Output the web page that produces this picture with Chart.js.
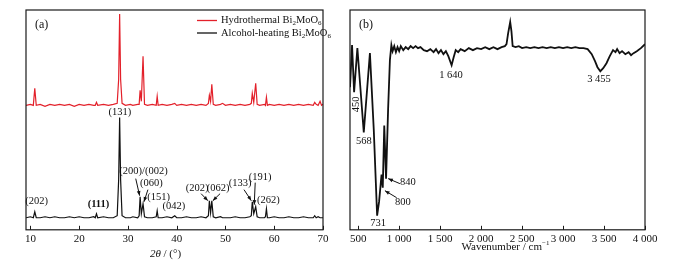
<!DOCTYPE html>
<html>
<head>
<meta charset="utf-8">
<script src="https://cdn.jsdelivr.net/npm/chart.js@4.4.1/dist/chart.umd.min.js"></script>
<style>
  html, body { margin: 0; padding: 0; background: #fff; }
  #wrap { position: relative; width: 686px; height: 266px; }
  .pane { position: absolute; top: 0; height: 266px; }
</style>
</head>
<body>
<div id="wrap">
  <div class="pane" style="left:0;width:343px"><canvas id="xrdChart" width="343" height="266"></canvas></div>
  <div class="pane" style="left:343px;width:343px"><canvas id="ftirChart" width="343" height="266"></canvas></div>
</div>
<script>
// ---- (a) XRD data ----
const xrdAngles = [
  9.1, 10.0, 10.6, 10.9, 11.2, 12.0, 13.0, 14.0, 15.0, 16.0,
  17.0, 18.0, 19.0, 20.0, 21.0, 22.0, 23.0, 23.3, 23.55, 23.8,
  25.0, 26.0, 27.0, 27.8, 28.1, 28.3, 28.5, 28.8, 29.5, 30.5,
  31.0, 32.0, 32.3, 32.5, 32.75, 33.1, 33.4, 34.0, 35.0, 35.8,
  36.0, 36.2, 37.0, 38.0, 39.0, 39.6, 40.0, 41.0, 42.0, 43.0,
  44.0, 45.0, 46.0, 46.5, 46.7, 46.95, 47.2, 47.5, 48.0, 49.0,
  49.4, 50.0, 51.0, 52.0, 53.0, 54.0, 55.0, 55.3, 55.5, 55.8,
  56.2, 56.5, 57.0, 58.0, 58.2, 58.4, 58.6, 59.0, 60.0, 61.0,
  62.0, 63.0, 64.0, 65.0, 66.0, 67.0, 68.0, 68.3, 68.6, 69.0,
  69.4, 69.7, 70.0
];
const hydrothermal = [
  124, 125, 124, 141, 124, 125, 123, 125, 124, 125,
  124, 125, 123, 125, 124, 125, 124, 124, 127, 124,
  125, 124, 125, 126, 150, 215, 150, 126, 124, 125,
  124, 125, 125, 139, 128, 173, 125, 124, 125, 124,
  133, 124, 125, 124, 125, 126, 124, 125, 124, 125,
  124, 125, 124, 126, 134, 128, 145, 125, 124, 125,
  126, 124, 125, 124, 125, 124, 125, 126, 136, 127,
  146, 125, 124, 125, 124, 132, 124, 125, 124, 125,
  124, 125, 124, 125, 124, 125, 124, 127, 125, 124,
  128, 124, 125
];
const alcoholHeating = [
  12, 13, 12, 18, 12, 12, 13, 12, 13, 12,
  12, 13, 12, 13, 12, 12, 13, 12, 16, 12,
  13, 12, 12, 14, 50, 112, 50, 14, 12, 12,
  13, 12, 14, 33, 16, 26, 13, 12, 12, 13,
  19, 12, 12, 13, 12, 14, 12, 12, 13, 12,
  12, 13, 12, 14, 29, 17, 29, 13, 12, 13,
  12, 12, 12, 13, 12, 12, 13, 14, 28, 16,
  23, 13, 12, 12, 13, 21, 12, 12, 13, 12,
  12, 13, 12, 12, 13, 12, 12, 14, 12, 13,
  12, 12, 12
];
const xrdTicks = [10, 20, 30, 40, 50, 60, 70];

// ---- (b) FTIR data ----
const wavenumbers = [
  400, 425, 450, 490, 568, 643, 690, 731, 755, 785,
  800, 818, 840, 865, 887, 905, 920, 940, 960, 980,
  1000, 1020, 1050, 1080, 1110, 1140, 1170, 1200, 1230, 1260,
  1300, 1340, 1380, 1420, 1450, 1480, 1510, 1540, 1570, 1600,
  1640, 1665, 1690, 1720, 1750, 1800, 1850, 1900, 1950, 2000,
  2050, 2100, 2150, 2200, 2250, 2290, 2310, 2330, 2355, 2370,
  2385, 2420, 2460, 2500, 2550, 2600, 2650, 2700, 2750, 2800,
  2850, 2900, 2950, 3000, 3050, 3100, 3150, 3200, 3250, 3300,
  3350, 3390, 3420, 3455, 3490, 3530, 3570, 3610, 3640, 3660,
  3690, 3720, 3760, 3800, 3830, 3860, 3900, 3950, 4000
];
const transmittance = [
  142, 184, 137, 181, 97, 176, 100, 14, 28, 55,
  42, 104, 51, 120, 169, 184, 178, 183, 177, 182,
  178, 183, 179, 182, 180, 183, 181, 183, 181, 182,
  179, 178, 180, 177, 180, 176, 179, 175, 178, 173,
  164, 172, 179, 177, 180, 178, 181, 179, 181, 180,
  182, 180, 182, 180, 182, 183, 185, 196, 207, 198,
  183, 182, 183, 181, 182, 181, 182, 181, 182, 181,
  182, 181, 182, 181, 182, 181, 182, 181, 181, 180,
  175, 168, 162, 158, 161, 166, 173, 179, 177, 180,
  176, 178, 175, 177, 174, 176, 178, 181, 185
];
const ftirTicks = [500, 1000, 1500, 2000, 2500, 3000, 3500, 4000];
const ftirTickLabels = ['500', '1 000', '1 500', '2 000', '2 500', '3 000', '3 500', '4 000'];

const SERIF = '"Liberation Serif", "Times New Roman", serif';

function fontFor(p, size) {
  const s = (p.sub || p.sup) ? Math.round(size * 0.68) : size;
  return (p.italic ? 'italic ' : '') + (p.bold ? 'bold ' : '') + s + 'px ' + SERIF;
}

// draws text made of pieces (subscripts, superscripts, italics)
function drawRich(ctx, parts, x, y, size, align) {
  let total = 0;
  parts.forEach(p => { ctx.font = fontFor(p, size); total += ctx.measureText(p.t).width; });
  let cx = align === 'center' ? x - total / 2 : x;
  ctx.textAlign = 'left';
  ctx.textBaseline = 'middle';
  parts.forEach(p => {
    ctx.font = fontFor(p, size);
    const dy = p.sub ? size * 0.3 : (p.sup ? -size * 0.3 : 0);
    ctx.fillText(p.t, cx, y + dy);
    cx += ctx.measureText(p.t).width;
  });
}

function drawArrow(ctx, x1, y1, x2, y2) {
  ctx.beginPath();
  ctx.moveTo(x1, y1);
  ctx.lineTo(x2, y2);
  ctx.stroke();
  const a = Math.atan2(y2 - y1, x2 - x1), L = 5, W = 0.38;
  ctx.beginPath();
  ctx.moveTo(x2, y2);
  ctx.lineTo(x2 - L * Math.cos(a - W), y2 - L * Math.sin(a - W));
  ctx.lineTo(x2 - L * Math.cos(a + W), y2 - L * Math.sin(a + W));
  ctx.closePath();
  ctx.fill();
}

// frame round the plot and short ticks pointing inwards
const framePlugin = {
  id: 'frame',
  afterDraw(chart) {
    const ctx = chart.ctx, a = chart.chartArea, sx = chart.scales.x;
    ctx.save();
    ctx.strokeStyle = '#1a1a1a';
    ctx.lineWidth = 1.2;
    ctx.strokeRect(a.left, a.top, a.right - a.left, a.bottom - a.top);
    ctx.lineWidth = 1;
    sx.ticks.forEach(t => {
      const px = Math.round(sx.getPixelForValue(t.value)) + 0.5;
      ctx.beginPath();
      ctx.moveTo(px, a.bottom);
      ctx.lineTo(px, a.bottom - 4);
      ctx.stroke();
    });
    ctx.restore();
  }
};

function xAxis(min, max, ticks, labelFn) {
  return {
    type: 'linear', min: min, max: max,
    afterBuildTicks: axis => { axis.ticks = ticks.map(v => ({ value: v })); },
    grid: { display: false, drawTicks: false },
    border: { display: false },
    ticks: {
      padding: 3, autoSkip: false, maxRotation: 0, color: '#111',
      font: { family: SERIF, size: 11 },
      callback: labelFn
    }
  };
}

// ---- chart (a) ----
const xrdLabels = [
  { t: '(202)', x: 11.3, y: 28 },
  { t: '(111)', x: 23.95, y: 25, bold: true },
  { t: '(131)', x: 28.36, y: 117 },
  { t: '(200)/(002)', x: 33.2, y: 58 },
  { t: '(060)', x: 34.8, y: 46 },
  { t: '(151)', x: 36.3, y: 32 },
  { t: '(042)', x: 39.4, y: 23 },
  { t: '(202)', x: 44.2, y: 41 },
  { t: '(062)', x: 48.5, y: 41 },
  { t: '(133)', x: 53.0, y: 46 },
  { t: '(191)', x: 57.1, y: 52 },
  { t: '(262)', x: 58.8, y: 29 }
];
const xrdArrows = [
  [31.6, 51, 32.4, 34],
  [34.1, 40, 33.3, 28],
  [45.0, 36, 46.4, 29],
  [48.9, 36, 47.4, 29],
  [53.8, 40, 55.3, 29],
  [56.1, 47, 55.9, 25]
];

const xrdNotes = {
  id: 'xrdNotes',
  afterDraw(chart) {
    const ctx = chart.ctx, a = chart.chartArea, sx = chart.scales.x, sy = chart.scales.y;
    ctx.save();
    ctx.fillStyle = '#111';
    xrdLabels.forEach(l => {
      drawRich(ctx, [{ t: l.t, bold: l.bold }], sx.getPixelForValue(l.x), sy.getPixelForValue(l.y), 10.5, 'center');
    });
    ctx.strokeStyle = '#111';
    ctx.lineWidth = 1;
    xrdArrows.forEach(r => {
      drawArrow(ctx, sx.getPixelForValue(r[0]), sy.getPixelForValue(r[1]), sx.getPixelForValue(r[2]), sy.getPixelForValue(r[3]));
    });
    // panel tag
    drawRich(ctx, [{ t: '(a)' }], a.left + 9, a.top + 15, 12, 'left');
    // legend
    const lx = a.right - 126, ly1 = a.top + 10.5, ly2 = a.top + 23;
    ctx.lineWidth = 1.3;
    ctx.strokeStyle = '#e3202a';
    ctx.beginPath(); ctx.moveTo(lx, ly1); ctx.lineTo(lx + 20, ly1); ctx.stroke();
    ctx.strokeStyle = '#111';
    ctx.beginPath(); ctx.moveTo(lx, ly2); ctx.lineTo(lx + 20, ly2); ctx.stroke();
    drawRich(ctx, [{ t: 'Hydrothermal Bi' }, { t: '2', sub: true }, { t: 'MoO' }, { t: '6', sub: true }], lx + 24, ly1, 10.5, 'left');
    drawRich(ctx, [{ t: 'Alcohol-heating Bi' }, { t: '2', sub: true }, { t: 'MoO' }, { t: '6', sub: true }], lx + 24, ly2, 10.5, 'left');
    // axis title
    drawRich(ctx, [{ t: '2', italic: true }, { t: 'θ', italic: true }, { t: ' / (°)' }], (a.left + a.right) / 2 - 9, a.bottom + 24, 11, 'center');
    ctx.restore();
  }
};

new Chart(document.getElementById('xrdChart'), {
  type: 'line',
  data: {
    datasets: [
      {
        label: 'Hydrothermal Bi2MoO6',
        data: xrdAngles.map((x, i) => ({ x: x, y: hydrothermal[i] })),
        borderColor: '#e3202a', borderWidth: 1.2, pointRadius: 0, tension: 0
      },
      {
        label: 'Alcohol-heating Bi2MoO6',
        data: xrdAngles.map((x, i) => ({ x: x, y: alcoholHeating[i] })),
        borderColor: '#111', borderWidth: 1.2, pointRadius: 0, tension: 0
      }
    ]
  },
  options: {
    responsive: false,
    animation: false,
    layout: { padding: { left: 26, right: 20, top: 10, bottom: 17 } },
    scales: {
      x: xAxis(9.1, 70, xrdTicks, v => String(v)),
      y: { display: false, min: 0, max: 219 }
    },
    plugins: { legend: { display: false }, tooltip: { enabled: false } }
  },
  plugins: [framePlugin, xrdNotes]
});

// ---- chart (b) ----
const ftirLabels = [
  { t: '568', x: 570, y: 88 },
  { t: '731', x: 744, y: 7 },
  { t: '800', x: 1046, y: 27 },
  { t: '840', x: 1107, y: 47 },
  { t: '1 640', x: 1632, y: 154 },
  { t: '3 455', x: 3439, y: 150 }
];
const ftirArrows = [
  [969, 32, 826, 39],
  [1009, 46, 866, 51]
];

const ftirNotes = {
  id: 'ftirNotes',
  afterDraw(chart) {
    const ctx = chart.ctx, a = chart.chartArea, sx = chart.scales.x, sy = chart.scales.y;
    ctx.save();
    ctx.fillStyle = '#111';
    ftirLabels.forEach(l => {
      drawRich(ctx, [{ t: l.t }], sx.getPixelForValue(l.x), sy.getPixelForValue(l.y), 10.5, 'center');
    });
    // vertical 450 label
    ctx.save();
    ctx.translate(sx.getPixelForValue(482), sy.getPixelForValue(125));
    ctx.rotate(-Math.PI / 2);
    drawRich(ctx, [{ t: '450' }], 0, 0, 10.5, 'center');
    ctx.restore();
    ctx.strokeStyle = '#111';
    ctx.lineWidth = 1;
    ftirArrows.forEach(r => {
      drawArrow(ctx, sx.getPixelForValue(r[0]), sy.getPixelForValue(r[1]), sx.getPixelForValue(r[2]), sy.getPixelForValue(r[3]));
    });
    drawRich(ctx, [{ t: '(b)' }], a.left + 9, a.top + 15, 12, 'left');
    drawRich(ctx, [{ t: 'Wavenumber / cm' }, { t: '−1', sup: true }], (a.left + a.right) / 2 + 8, a.bottom + 17, 11, 'center');
    ctx.restore();
  }
};

new Chart(document.getElementById('ftirChart'), {
  type: 'line',
  data: {
    datasets: [{
      label: 'FTIR',
      data: wavenumbers.map((x, i) => ({ x: x, y: transmittance[i] })),
      borderColor: '#111', borderWidth: 1.8, pointRadius: 0, tension: 0
    }]
  },
  options: {
    responsive: false,
    animation: false,
    layout: { padding: { left: 7, right: 41, top: 10, bottom: 17 } },
    scales: {
      x: xAxis(400, 4000, ftirTicks, v => ftirTickLabels[ftirTicks.indexOf(v)]),
      y: { display: false, min: 0, max: 219 }
    },
    plugins: { legend: { display: false }, tooltip: { enabled: false } }
  },
  plugins: [framePlugin, ftirNotes]
});
</script>
</body>
</html>
